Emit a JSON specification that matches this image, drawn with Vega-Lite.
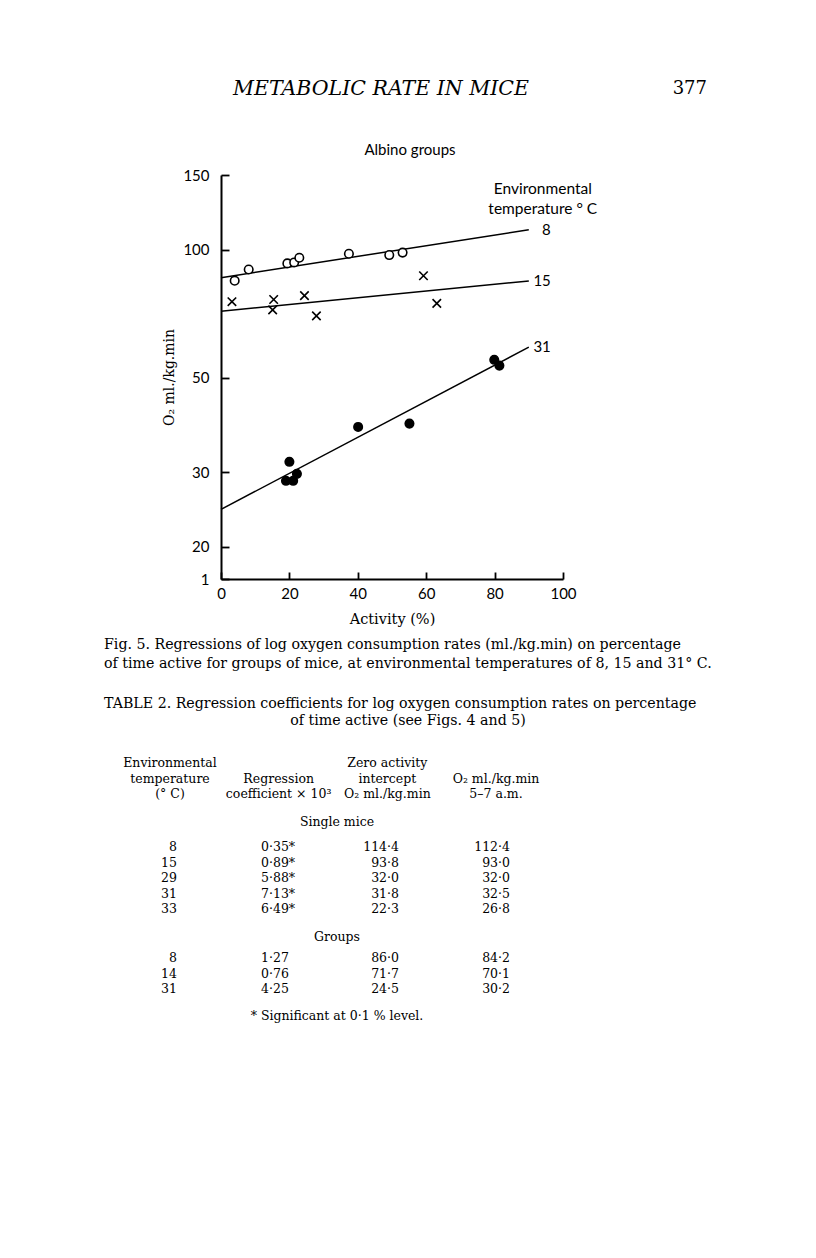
{
  "$schema": "https://vega.github.io/schema/vega-lite/v6.json",
  "background": "white",
  "padding": {"left": 104, "top": 70, "right": 20, "bottom": 20},
  "bounds": "flush",
  "spacing": 67,
  "config": {
    "view": {"stroke": null},
    "font": "DejaVu Serif",
    "text": {"color": "black"}
  },
  "datasets": {
    "observations": [
      {"temp": "8", "activity": 4.0, "o2": 84.6},
      {"temp": "8", "activity": 8.1, "o2": 89.9},
      {"temp": "8", "activity": 19.4, "o2": 92.9},
      {"temp": "8", "activity": 21.4, "o2": 93.4},
      {"temp": "8", "activity": 22.9, "o2": 95.8},
      {"temp": "8", "activity": 37.4, "o2": 97.9},
      {"temp": "8", "activity": 49.2, "o2": 97.2},
      {"temp": "8", "activity": 53.1, "o2": 98.5},
      {"temp": "15", "activity": 3.2, "o2": 75.5},
      {"temp": "15", "activity": 15.4, "o2": 76.4},
      {"temp": "15", "activity": 15.1, "o2": 72.2},
      {"temp": "15", "activity": 24.4, "o2": 78.0},
      {"temp": "15", "activity": 27.9, "o2": 69.9},
      {"temp": "15", "activity": 59.2, "o2": 86.9},
      {"temp": "15", "activity": 63.1, "o2": 74.8},
      {"temp": "31", "activity": 79.9, "o2": 55.1},
      {"temp": "31", "activity": 81.4, "o2": 53.4},
      {"temp": "31", "activity": 40.1, "o2": 38.3},
      {"temp": "31", "activity": 55.1, "o2": 39.0},
      {"temp": "31", "activity": 20.0, "o2": 31.7},
      {"temp": "31", "activity": 19.0, "o2": 28.6},
      {"temp": "31", "activity": 21.1, "o2": 28.6},
      {"temp": "31", "activity": 22.2, "o2": 29.7}
    ],
    "regressions": [
      {"temp": "8", "activity": 0, "o2": 86.0},
      {"temp": "8", "activity": 90, "o2": 111.5},
      {"temp": "15", "activity": 0, "o2": 71.7},
      {"temp": "15", "activity": 90, "o2": 84.5},
      {"temp": "31", "activity": 0, "o2": 24.5},
      {"temp": "31", "activity": 90, "o2": 59.0}
    ],
    "captions": [
      {"caption": "Fig. 5", "line": 1, "text": "Fig. 5.  Regressions of log oxygen consumption rates (ml./kg.min) on percentage"},
      {"caption": "Fig. 5", "line": 2, "text": "of time active for groups of mice, at environmental temperatures of 8, 15 and 31° C."},
      {"caption": "Table 2", "line": 1, "text": "TABLE 2.  Regression coefficients for log oxygen consumption rates on percentage"},
      {"caption": "Table 2", "line": 2, "text": "of time active (see Figs. 4 and 5)"}
    ],
    "headers": [
      {"column": "temp", "line": 1, "text": "Environmental"},
      {"column": "temp", "line": 2, "text": "temperature"},
      {"column": "temp", "line": 3, "text": "(° C)"},
      {"column": "coef", "line": 2, "text": "Regression"},
      {"column": "coef", "line": 3, "text": "coefficient × 10³"},
      {"column": "intercept", "line": 1, "text": "Zero activity"},
      {"column": "intercept", "line": 2, "text": "intercept"},
      {"column": "intercept", "line": 3, "text": "O₂ ml./kg.min"},
      {"column": "o2", "line": 2, "text": "O₂ ml./kg.min"},
      {"column": "o2", "line": 3, "text": "5–7 a.m."}
    ],
    "table": [
      {"group": "Single mice", "temp": "8", "coef": "0·35*", "intercept": "114·4", "o2": "112·4"},
      {"group": "Single mice", "temp": "15", "coef": "0·89*", "intercept": "93·8", "o2": "93·0"},
      {"group": "Single mice", "temp": "29", "coef": "5·88*", "intercept": "32·0", "o2": "32·0"},
      {"group": "Single mice", "temp": "31", "coef": "7·13*", "intercept": "31·8", "o2": "32·5"},
      {"group": "Single mice", "temp": "33", "coef": "6·49*", "intercept": "22·3", "o2": "26·8"},
      {"group": "Groups", "temp": "8", "coef": "1·27", "intercept": "86·0", "o2": "84·2"},
      {"group": "Groups", "temp": "14", "coef": "0·76", "intercept": "71·7", "o2": "70·1"},
      {"group": "Groups", "temp": "31", "coef": "4·25", "intercept": "24·5", "o2": "30·2"}
    ]
  },
  "vconcat": [
    {
      "width": 342,
      "height": 38,
      "data": {"values": [
        {"part": "running head", "text": "METABOLIC RATE IN MICE"},
        {"part": "page number", "text": "377"}
      ]},
      "layer": [
        {
          "transform": [{"filter": "datum.part === 'running head'"}],
          "mark": {"type": "text", "font": "DejaVu Serif", "fontStyle": "italic", "fontSize": 20.5, "align": "center", "baseline": "middle"},
          "encoding": {
            "x": {"field": "part", "type": "nominal", "axis": null, "scale": {"type": "point", "domain": ["running head", "page number"], "range": [160, 486], "padding": 0}},
            "text": {"field": "text"}
          }
        },
        {
          "transform": [{"filter": "datum.part === 'page number'"}],
          "mark": {"type": "text", "font": "DejaVu Serif", "fontSize": 18, "align": "right", "baseline": "middle"},
          "encoding": {
            "x": {"field": "part", "type": "nominal", "axis": null, "scale": {"type": "point", "domain": ["running head", "page number"], "range": [160, 486], "padding": 0}},
            "text": {"field": "text"}
          }
        }
      ]
    },
    {
      "width": 342,
      "height": 404,
      "title": {"text": "Albino groups", "font": "Lato", "fontSize": 15, "fontWeight": "normal", "anchor": "middle", "frame": "group", "dx": 18, "offset": 10, "color": "black"},
      "layer": [
        {
          "data": {"name": "regressions"},
          "mark": {"type": "line", "color": "black", "strokeWidth": 1.5},
          "encoding": {
            "x": {"field": "activity", "type": "quantitative",
              "scale": {"domain": [0, 100], "nice": false, "zero": false},
              "axis": {
                "title": "Activity (%)", "titleFont": "DejaVu Serif", "titleFontSize": 14.5, "titleFontWeight": "normal", "titleColor": "black", "titlePadding": 11,
                "values": [0, 10, 20, 30, 40, 50, 60, 70, 80, 90, 100],
                "labelExpr": "datum.value % 20 === 0 ? datum.label : ''",
                "labelFont": "Lato", "labelFontSize": 15, "labelColor": "black", "labelFlush": false, "labelOverlap": false, "labelPadding": 14,
                "tickSize": -7, "tickColor": "black", "tickWidth": 1.8,
                "domainColor": "black", "domainWidth": 2, "grid": false
              }
            },
            "y": {"field": "o2", "type": "quantitative",
              "scale": {"type": "log", "domain": [16.8, 150], "nice": false},
              "axis": {
                "title": "O₂ ml./kg.min", "titleFont": "DejaVu Serif", "titleFontSize": 14, "titleFontWeight": "normal", "titleColor": "black", "titlePadding": 6,
                "values": [16.8, 20, 30, 50, 100, 150],
                "labelExpr": "datum.value < 17 ? '1' : format(datum.value, 'd')",
                "labelFont": "Lato", "labelFontSize": 15, "labelColor": "black", "labelFlush": false, "labelOverlap": false, "labelPadding": 20,
                "tickSize": -8, "tickColor": "black", "tickWidth": 1.8,
                "domainColor": "black", "domainWidth": 2, "grid": false
              }
            },
            "detail": {"field": "temp", "type": "nominal"}
          }
        },
        {
          "data": {"name": "observations"},
          "mark": {"type": "point", "filled": true, "stroke": "black", "strokeWidth": 1.6, "size": 72, "opacity": 1},
          "encoding": {
            "x": {"field": "activity", "type": "quantitative"},
            "y": {"field": "o2", "type": "quantitative"},
            "shape": {"field": "temp", "type": "nominal", "legend": null,
              "scale": {"domain": ["8", "15", "31"], "range": ["circle", "M-1,-1L1,1M-1,1L1,-1", "circle"]}},
            "fill": {"field": "temp", "type": "nominal", "legend": null,
              "scale": {"domain": ["8", "15", "31"], "range": ["white", "black", "black"]}}
          }
        },
        {
          "data": {"name": "regressions"},
          "transform": [{"filter": "datum.activity === 90"}],
          "mark": {"type": "text", "font": "Lato", "fontSize": 15, "align": "right", "baseline": "middle", "dx": 22},
          "encoding": {
            "x": {"field": "activity", "type": "quantitative"},
            "y": {"field": "o2", "type": "quantitative"},
            "text": {"field": "temp"}
          }
        },
        {
          "data": {"values": [{"heading": "Environmental\ntemperature ° C"}]},
          "mark": {"type": "text", "font": "Lato", "fontSize": 15.5, "align": "center", "baseline": "middle", "lineBreak": "\n", "lineHeight": 20, "dx": 14},
          "encoding": {
            "x": {"datum": 90, "type": "quantitative"},
            "y": {"datum": 139, "type": "quantitative"},
            "text": {"field": "heading"}
          }
        }
      ]
    },
    {
      "width": 342,
      "height": 384,
      "resolve": {"scale": {"x": "independent", "y": "independent"}},
      "layer": [
        {
          "data": {"name": "captions"},
          "transform": [{"filter": "datum.caption === 'Fig. 5'"}],
          "mark": {"type": "text", "fontSize": 14.2, "align": "left", "baseline": "middle"},
          "encoding": {
            "x": {"field": "caption", "type": "nominal", "axis": null, "scale": {"type": "point", "domain": ["Fig. 5"], "range": [-117, -117], "padding": 0}},
            "y": {"field": "line", "type": "ordinal", "axis": null, "scale": {"type": "point", "domain": [1, 2], "range": [-1, 18], "padding": 0}},
            "text": {"field": "text"}
          }
        },
        {
          "data": {"name": "captions"},
          "transform": [{"filter": "datum.caption === 'Table 2' && datum.line === 1"}],
          "mark": {"type": "text", "fontSize": 14.2, "align": "left", "baseline": "middle"},
          "encoding": {
            "x": {"field": "caption", "type": "nominal", "axis": null, "scale": {"type": "point", "domain": ["Table 2"], "range": [-117, -117], "padding": 0}},
            "y": {"field": "line", "type": "ordinal", "axis": null, "scale": {"type": "point", "domain": [1, 2], "range": [58, 75], "padding": 0}},
            "text": {"field": "text"}
          }
        },
        {
          "data": {"name": "captions"},
          "transform": [{"filter": "datum.caption === 'Table 2' && datum.line === 2"}],
          "mark": {"type": "text", "fontSize": 14.2, "align": "center", "baseline": "middle"},
          "encoding": {
            "x": {"field": "caption", "type": "nominal", "axis": null, "scale": {"type": "point", "domain": ["Table 2"], "range": [187, 187], "padding": 0}},
            "y": {"field": "line", "type": "ordinal", "axis": null, "scale": {"type": "point", "domain": [1, 2], "range": [58, 75], "padding": 0}},
            "text": {"field": "text"}
          }
        },
        {
          "data": {"name": "headers"},
          "mark": {"type": "text", "fontSize": 12.5, "align": "center", "baseline": "middle"},
          "encoding": {
            "x": {"field": "column", "type": "nominal", "axis": null, "scale": {"type": "point", "domain": ["temp", "coef", "intercept", "o2"], "range": [-51, 275], "padding": 0}},
            "y": {"field": "line", "type": "ordinal", "axis": null, "scale": {"type": "point", "domain": [1, 2, 3], "range": [117, 148], "padding": 0}},
            "text": {"field": "text"}
          }
        },
        {
          "data": {"values": [{"section": "Single mice"}, {"section": "Groups"}]},
          "mark": {"type": "text", "fontSize": 12.5, "align": "center", "baseline": "middle"},
          "encoding": {
            "x": {"field": "section", "type": "nominal", "axis": null, "scale": {"type": "point", "domain": ["Single mice", "Groups"], "range": [116, 116], "padding": 0}},
            "y": {"field": "section", "type": "nominal", "axis": null, "scale": {"type": "point", "domain": ["Single mice", "Groups"], "range": [176, 291], "padding": 0}},
            "text": {"field": "section"}
          }
        },
        {
          "data": {"name": "table"},
          "transform": [
            {"filter": "datum.group === 'Single mice'"},
            {"fold": ["temp", "intercept", "o2"], "as": ["column", "value"]}
          ],
          "mark": {"type": "text", "fontSize": 12.5, "align": "right", "baseline": "middle"},
          "encoding": {
            "x": {"field": "column", "type": "nominal", "axis": null, "scale": {"type": "point", "domain": ["temp", "coef", "intercept", "o2"], "range": [-44, 289], "padding": 0}},
            "y": {"field": "temp", "type": "ordinal", "axis": null, "scale": {"type": "point", "domain": ["8", "15", "29", "31", "33"], "range": [201, 263], "padding": 0}},
            "text": {"field": "value"}
          }
        },
        {
          "data": {"name": "table"},
          "transform": [
            {"filter": "datum.group === 'Single mice'"},
            {"fold": ["coef"], "as": ["column", "value"]}
          ],
          "mark": {"type": "text", "fontSize": 12.5, "align": "left", "baseline": "middle", "dx": -27},
          "encoding": {
            "x": {"field": "column", "type": "nominal", "axis": null, "scale": {"type": "point", "domain": ["temp", "coef", "intercept", "o2"], "range": [-44, 289], "padding": 0}},
            "y": {"field": "temp", "type": "ordinal", "axis": null, "scale": {"type": "point", "domain": ["8", "15", "29", "31", "33"], "range": [201, 263], "padding": 0}},
            "text": {"field": "value"}
          }
        },
        {
          "data": {"name": "table"},
          "transform": [
            {"filter": "datum.group === 'Groups'"},
            {"fold": ["temp", "intercept", "o2"], "as": ["column", "value"]}
          ],
          "mark": {"type": "text", "fontSize": 12.5, "align": "right", "baseline": "middle"},
          "encoding": {
            "x": {"field": "column", "type": "nominal", "axis": null, "scale": {"type": "point", "domain": ["temp", "coef", "intercept", "o2"], "range": [-44, 289], "padding": 0}},
            "y": {"field": "temp", "type": "ordinal", "axis": null, "scale": {"type": "point", "domain": ["8", "14", "31"], "range": [312, 343], "padding": 0}},
            "text": {"field": "value"}
          }
        },
        {
          "data": {"name": "table"},
          "transform": [
            {"filter": "datum.group === 'Groups'"},
            {"fold": ["coef"], "as": ["column", "value"]}
          ],
          "mark": {"type": "text", "fontSize": 12.5, "align": "left", "baseline": "middle", "dx": -27},
          "encoding": {
            "x": {"field": "column", "type": "nominal", "axis": null, "scale": {"type": "point", "domain": ["temp", "coef", "intercept", "o2"], "range": [-44, 289], "padding": 0}},
            "y": {"field": "temp", "type": "ordinal", "axis": null, "scale": {"type": "point", "domain": ["8", "14", "31"], "range": [312, 343], "padding": 0}},
            "text": {"field": "value"}
          }
        },
        {
          "data": {"values": [{"note": "* Significant at 0·1 % level."}]},
          "mark": {"type": "text", "fontSize": 12.5, "align": "center", "baseline": "middle"},
          "encoding": {
            "x": {"field": "note", "type": "nominal", "axis": null, "scale": {"type": "point", "domain": ["* Significant at 0·1 % level."], "range": [116, 116], "padding": 0}},
            "y": {"field": "note", "type": "nominal", "axis": null, "scale": {"type": "point", "domain": ["* Significant at 0·1 % level."], "range": [370, 370], "padding": 0}},
            "text": {"field": "note"}
          }
        }
      ]
    }
  ]
}
